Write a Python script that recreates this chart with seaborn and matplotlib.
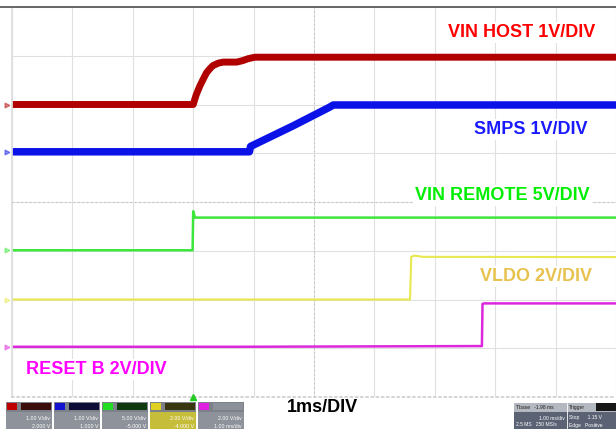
import matplotlib
matplotlib.use("Agg")
import matplotlib.pyplot as plt
from matplotlib.patches import Rectangle
from matplotlib.lines import Line2D
import seaborn as sns

# scope capture: time in ms (1 ms/div, 10 div), levels in volts
vin_host_t = [0.0, 3.0, 3.05, 3.11, 3.17, 3.22, 3.28, 3.33, 3.42, 3.50, 3.60, 3.72, 3.82, 3.91, 4.02, 10.0]
vin_host_v = [0.0, 0.0, 0.20, 0.38, 0.53, 0.65, 0.74, 0.80, 0.85, 0.87, 0.87, 0.87, 0.90, 0.94, 0.97, 0.97]

smps_t = [0.0, 3.93, 3.95, 4.65, 5.25, 5.32, 10.0]
smps_v = [0.0, 0.0, 0.11, 0.53, 0.91, 0.96, 0.96]

vin_remote_t = [0.0, 2.99, 3.0, 3.03, 10.0]
vin_remote_v = [0.0, 0.0, 4.0, 3.35, 3.35]

vldo_t = [0.0, 6.59, 6.61, 6.66, 6.8, 10.0]
vldo_v = [0.0, 0.0, 1.75, 1.80, 1.75, 1.74]

reset_t = [0.0, 3.75, 7.78, 7.79, 7.82, 10.0]
reset_v = [0.0, 0.0, 0.03, 1.76, 1.78, 1.78]

channels = ["VIN HOST", "SMPS", "VIN REMOTE", "VLDO", "RESET B"]
volts_per_div = [1, 1, 5, 2, 2]
ground_div = [2.0, 1.03, -0.99, -2.0, -2.97]
labels = ["VIN HOST 1V/DIV", "SMPS 1V/DIV", "VIN REMOTE 5V/DIV", "VLDO 2V/DIV", "RESET B 2V/DIV"]
label_pos = [(8.44, 3.48), (8.59, 1.49), (8.12, 0.14), (8.67, -1.53), (1.39, -3.43)]
trace_colors = ["#b00000", "#0a12e8", "#3ce63c", "#e8e850", "#dc28dc"]
label_colors = ["#ff0000", "#1a1aff", "#00ee00", "#e8c24e", "#ff00ff"]
trace_widths = [5.0, 5.4, 1.8, 1.5, 1.8]

box_scale = ["1.00 V/div", "1.00 V/div", "5.00 V/div", "2.00 V/div", "2.00 V/div"]
box_offset = ["2.000 V", "1.000 V", "-5.000 V", "-4.000 V", "1.00 ms/div"]
box_square = ["#c00000", "#1414d0", "#22dd22", "#e0d020", "#e020e0"]
box_tag = ["#3a0c0c", "#0c0c34", "#0f3a10", "#3a3610", "#8c9098"]

traces = [(vin_host_t, vin_host_v), (smps_t, smps_v), (vin_remote_t, vin_remote_v),
          (vldo_t, vldo_v), (reset_t, reset_v)]

sns.set_theme(style="white")
plt.rcParams["font.family"] = ["Liberation Sans", "DejaVu Sans"]

fig = plt.figure(figsize=(6.16, 4.29), dpi=100)
ax = fig.add_axes([12 / 616, 32 / 429, 604 / 616, 390 / 429])
ax.set_facecolor("white")

# graticule
ax.set_xlim(0, 10)
ax.set_ylim(-4, 4)
ax.set_xticks(range(11))
ax.set_yticks(range(-4, 5))
ax.grid(True, color="#e0e0e0", lw=0.8)
ax.tick_params(left=False, bottom=False, labelleft=False, labelbottom=False)
ax.axhline(0, color="#bcbcbc", lw=0.7, dashes=(1.5, 3))
ax.axvline(5, color="#bcbcbc", lw=0.7, dashes=(1.5, 3))
for s in ["top", "right"]:
    ax.spines[s].set_visible(False)
ax.spines["left"].set_color("#dedede")
ax.spines["bottom"].set_color("#d0d0d0")
ax.spines["bottom"].set_linestyle((0, (1, 2)))

for (t, v), vpd, g, c, w in zip(traces, volts_per_div, ground_div, trace_colors, trace_widths):
    y = [g + val / vpd for val in v]
    sns.lineplot(x=t, y=y, color=c, linewidth=w, estimator=None, sort=False,
                 legend=False, ax=ax, solid_capstyle="butt", solid_joinstyle="round")
    ax.plot([-0.09], [g], marker=">", ms=3.5, color=c, alpha=0.45, clip_on=False)

for lab, (lx, ly), c in zip(labels, label_pos, label_colors):
    ax.text(lx, ly, lab, color=c, fontsize=13, fontweight="bold", ha="center", va="center",
            bbox=dict(fc="white", ec="none", pad=1.5), zorder=5)

# trigger marker
ax.plot([3.0], [-4.0], marker="^", ms=4, color="#22cc22", clip_on=False, zorder=6)

# top frame line
fig.add_artist(Line2D([0, 1], [1 - 7 / 429] * 2, color="#5c5c5c", lw=1.3))

fig.text(322 / 616, 1 - 408 / 429, "1ms/DIV", fontsize=13, fontweight="bold",
         ha="center", va="center", color="black")

# status bar
bar = fig.add_axes([0, 0, 1, 28 / 429])
bar.set_xlim(0, 616)
bar.set_ylim(28, 0)
bar.axis("off")
for i in range(5):
    x0 = 6 + 48 * i
    lower = "#c6bd3a" if i == 3 else "#8e929a"
    bar.add_patch(Rectangle((x0, 1), 46, 10, fc="#7c8088", ec="none"))
    bar.add_patch(Rectangle((x0, 11), 46, 17, fc=lower, ec="none"))
    bar.add_patch(Rectangle((x0 + 1, 2), 10, 7, fc=box_square[i], ec="none"))
    bar.add_patch(Rectangle((x0 + 15, 2), 30, 7, fc=box_tag[i], ec="none"))
    bar.text(x0 + 44, 18, box_scale[i], color="white", fontsize=3.8, ha="right", va="center")
    bar.text(x0 + 44, 25, box_offset[i], color="white", fontsize=3.8, ha="right", va="center")

bar.add_patch(Rectangle((514, 2), 102, 9, fc="#b4b8c0", ec="none"))
bar.add_patch(Rectangle((514, 11), 102, 17, fc="#5a6274", ec="none"))
bar.add_patch(Rectangle((596, 2), 20, 8, fc="#181818", ec="none"))
bar.plot([567, 567], [2, 28], color="white", lw=0.6)
bar.text(516, 6.5, "Tbase   -1.98 ms", fontsize=3.6, color="#202020", va="center")
bar.text(569, 6.5, "Trigger", fontsize=3.6, color="#202020", va="center")
bar.text(565, 17, "1.00 ms/div", fontsize=3.6, color="white", ha="right", va="center")
bar.text(516, 24, "2.5 MS   250 MS/s", fontsize=3.6, color="white", va="center")
bar.text(569, 17, "Stop      1.15 V", fontsize=3.6, color="white", va="center")
bar.text(569, 24, "Edge   Positive", fontsize=3.6, color="white", va="center")

fig.savefig("out.png", dpi=100)
